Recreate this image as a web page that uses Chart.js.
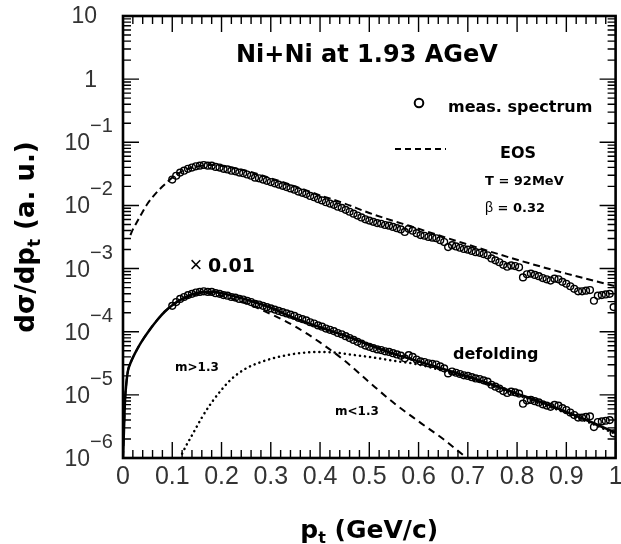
<!DOCTYPE html>
<html>
<head>
<meta charset="utf-8">
<script src="https://cdn.jsdelivr.net/npm/chart.js@4.4.1/dist/chart.umd.min.js"></script>
<style>
  html, body { margin: 0; padding: 0; background: #fff; }
  canvas { display: block; }
</style>
</head>
<body>
<canvas id="chart" width="621" height="544"></canvas>
<script>
// measured pt spectrum (upper set), values read as log10 of dsigma/dpt
const measPt = [
  0.100, 0.108, 0.116, 0.124, 0.132, 0.140, 0.148, 0.156, 0.164, 0.172,
  0.180, 0.188, 0.196, 0.204, 0.212, 0.220, 0.228, 0.236, 0.244, 0.252,
  0.260, 0.268, 0.276, 0.284, 0.292, 0.300, 0.308, 0.316, 0.324, 0.332,
  0.340, 0.348, 0.356, 0.364, 0.372, 0.380, 0.388, 0.396, 0.404, 0.412,
  0.420, 0.428, 0.436, 0.444, 0.452, 0.460, 0.468, 0.476, 0.484, 0.492,
  0.500, 0.508, 0.516, 0.524, 0.532, 0.540, 0.548, 0.556, 0.564, 0.572,
  0.580, 0.588, 0.596, 0.604, 0.612, 0.620, 0.628, 0.636, 0.644, 0.652,
  0.660, 0.668, 0.676, 0.684, 0.692, 0.700, 0.708, 0.716, 0.724, 0.732,
  0.740, 0.748, 0.756, 0.764, 0.772, 0.780, 0.788, 0.796, 0.804, 0.812,
  0.820, 0.828, 0.836, 0.844, 0.852, 0.860, 0.868, 0.876, 0.884, 0.892,
  0.900, 0.908, 0.916, 0.924, 0.932, 0.940, 0.948, 0.956, 0.964, 0.972,
  0.980, 0.988, 0.996
];
const measLog = [
  -1.59, -1.53, -1.48, -1.45, -1.42, -1.40, -1.38, -1.37, -1.36, -1.37,
  -1.37, -1.39, -1.40, -1.42, -1.43, -1.45, -1.46, -1.48, -1.49, -1.51,
  -1.53, -1.56, -1.57, -1.59, -1.61, -1.63, -1.65, -1.67, -1.69, -1.71,
  -1.73, -1.75, -1.78, -1.80, -1.82, -1.85, -1.87, -1.90, -1.92, -1.95,
  -1.97, -1.99, -2.02, -2.04, -2.07, -2.10, -2.13, -2.16, -2.19, -2.22,
  -2.24, -2.26, -2.28, -2.29, -2.31, -2.32, -2.34, -2.36, -2.38, -2.42,
  -2.37, -2.40, -2.44, -2.47, -2.48, -2.50, -2.51, -2.52, -2.55, -2.58,
  -2.66, -2.63, -2.65, -2.67, -2.69, -2.70, -2.72, -2.74, -2.75, -2.77,
  -2.79, -2.84, -2.87, -2.90, -2.94, -2.97, -2.95, -2.96, -2.98, -3.14,
  -3.09, -3.08, -3.10, -3.12, -3.15, -3.17, -3.19, -3.16, -3.17, -3.21,
  -3.24, -3.28, -3.32, -3.36, -3.36, -3.35, -3.34, -3.51, -3.43, -3.42,
  -3.41, -3.40, -3.61
];
// lower copy of the same spectrum
const lowerScale = 0.01;

// EOS fit (T = 92 MeV, beta = 0.32)
const eosPt  = [0.015, 0.02, 0.03, 0.04, 0.05, 0.06, 0.07, 0.08, 0.09, 0.10, 0.12, 0.14, 0.16,
                0.18, 0.20, 0.25, 0.30, 0.35, 0.40, 0.45, 0.50, 0.60, 0.70, 0.80, 0.90, 1.00];
const eosLog = [-2.47, -2.38, -2.24, -2.10, -1.97, -1.87, -1.78, -1.70, -1.63, -1.56, -1.46, -1.40, -1.37,
                -1.36, -1.37, -1.45, -1.57, -1.70, -1.84, -1.97, -2.12, -2.37, -2.62, -2.86, -3.08, -3.28];

// defolding (sum of the two components)
const foldPt  = [0.0, 0.002, 0.004, 0.007, 0.01, 0.015, 0.02, 0.03, 0.04, 0.055, 0.07, 0.085, 0.10, 0.12,
                 0.14, 0.16, 0.18, 0.20, 0.25, 0.30, 0.35, 0.40, 0.45, 0.50, 0.55, 0.60, 0.65, 0.70,
                 0.75, 0.80, 0.85, 0.90, 0.95, 1.00];
const foldLog = [-6.0, -5.55, -5.10, -4.80, -4.62, -4.50, -4.41, -4.26, -4.13, -3.96, -3.81, -3.68, -3.58, -3.48,
                 -3.41, -3.37, -3.37, -3.39, -3.49, -3.62, -3.79, -3.93, -4.06, -4.21, -4.35, -4.47, -4.59, -4.71,
                 -4.84, -4.98, -5.12, -5.27, -5.43, -5.60];

// m < 1.3 component
const lowMassPt  = [0.0, 0.002, 0.004, 0.007, 0.01, 0.015, 0.02, 0.03, 0.04, 0.055, 0.07, 0.085, 0.10, 0.12,
                    0.14, 0.16, 0.18, 0.20, 0.25, 0.30, 0.35, 0.40, 0.45, 0.50, 0.55, 0.60, 0.65, 0.69];
const lowMassLog = [-6.0, -5.55, -5.10, -4.80, -4.62, -4.50, -4.41, -4.26, -4.13, -3.96, -3.81, -3.68, -3.58, -3.49,
                    -3.43, -3.39, -3.40, -3.43, -3.55, -3.72, -3.92, -4.17, -4.46, -4.80, -5.13, -5.42, -5.70, -5.95];

// m > 1.3 component
const highMassPt  = [0.12, 0.13, 0.14, 0.15, 0.16, 0.18, 0.20, 0.22, 0.25, 0.28, 0.31, 0.34, 0.37, 0.40,
                     0.43, 0.46, 0.50, 0.55, 0.60, 0.65, 0.70, 0.75, 0.80, 0.85, 0.90, 0.95, 1.00];
const highMassLog = [-5.93, -5.78, -5.64, -5.50, -5.36, -5.12, -4.92, -4.75, -4.58, -4.48, -4.41, -4.36, -4.33, -4.32,
                     -4.33, -4.36, -4.40, -4.46, -4.52, -4.62, -4.73, -4.86, -5.00, -5.14, -5.29, -5.45, -5.62];

const xTicks = [0, 0.1, 0.2, 0.3, 0.4, 0.5, 0.6, 0.7, 0.8, 0.9, 1];
const xTickLabels = ["0", "0.1", "0.2", "0.3", "0.4", "0.5", "0.6", "0.7", "0.8", "0.9", "1"];
const yDecades = [-6, -5, -4, -3, -2, -1, 0, 1];

const BOLD = "'DejaVu Sans', sans-serif";
const THIN = "'Liberation Sans', Arial, sans-serif";

function toPoints(xs, logs, scale) {
  return xs.map((x, i) => ({ x, y: Math.pow(10, logs[i]) * (scale || 1) }));
}

function text(ctx, str, x, y, font, align) {
  ctx.font = font;
  ctx.textAlign = align || "left";
  ctx.fillText(str, x, y);
}

const framePlugin = {
  id: "frame",
  afterDatasetsDraw(chart) {
    const { ctx, chartArea: a, scales } = chart;
    const xs = scales.x;
    const ys = scales.y;
    ctx.save();
    ctx.strokeStyle = "#000";
    ctx.fillStyle = "#000";
    ctx.textBaseline = "alphabetic";

    // ticks on all four sides, pointing inward
    ctx.lineWidth = 1.4;
    ctx.beginPath();
    for (let i = 0; i <= 50; i++) {
      const px = xs.getPixelForValue(i * 0.02);
      const len = i % 5 === 0 ? 16 : 8;
      ctx.moveTo(px, a.bottom); ctx.lineTo(px, a.bottom - len);
      ctx.moveTo(px, a.top); ctx.lineTo(px, a.top + len);
    }
    for (let d = -6; d <= 1; d++) {
      for (let m = 1; m <= 9; m++) {
        if (d === 1 && m > 1) break;
        const py = ys.getPixelForValue(m * Math.pow(10, d));
        const len = m === 1 ? 16 : 8;
        ctx.moveTo(a.left, py); ctx.lineTo(a.left + len, py);
        ctx.moveTo(a.right, py); ctx.lineTo(a.right - len, py);
      }
    }
    ctx.stroke();

    ctx.lineWidth = 2.6;
    ctx.strokeRect(a.left, a.top, a.right - a.left, a.bottom - a.top);

    // x tick labels
    ctx.fillStyle = "#333";
    xTicks.forEach((v, i) => {
      text(ctx, xTickLabels[i], xs.getPixelForValue(v), a.bottom + 26, "25px " + THIN, "center");
    });

    // y tick labels with exponents
    yDecades.forEach((d) => {
      const py = ys.getPixelForValue(Math.pow(10, d));
      if (d === 1) {
        text(ctx, "10", a.left - 26, py + 7, "23px " + THIN, "right");
      } else if (d === 0) {
        text(ctx, "1", a.left - 26, py + 8, "23px " + THIN, "right");
      } else {
        text(ctx, "10", a.left - 33, py + 8, "23px " + THIN, "right");
        text(ctx, "\u2212" + (-d), a.left - 33, py - 10, "20px " + THIN, "left");
      }
    });

    ctx.fillStyle = "#000";
    // axis titles
    const mid = (a.left + a.right) / 2;
    ctx.font = "bold 25px " + BOLD;
    const w1 = ctx.measureText("p").width;
    ctx.font = "bold 16px " + BOLD;
    const w2 = ctx.measureText("t").width;
    ctx.font = "bold 25px " + BOLD;
    const w3 = ctx.measureText(" (GeV/c)").width;
    let sx = mid - (w1 + w2 + w3) / 2;
    text(ctx, "p", sx, 538, "bold 25px " + BOLD);
    text(ctx, "t", sx + w1, 543, "bold 16px " + BOLD);
    text(ctx, " (GeV/c)", sx + w1 + w2, 538, "bold 25px " + BOLD);

    ctx.save();
    ctx.translate(34, (a.top + a.bottom) / 2);
    ctx.rotate(-Math.PI / 2);
    ctx.font = "bold 26px " + BOLD;
    const t1 = ctx.measureText("d\u03c3/dp").width;
    ctx.font = "bold 17px " + BOLD;
    const t2 = ctx.measureText("t").width;
    ctx.font = "bold 26px " + BOLD;
    const t3 = ctx.measureText(" (a. u.)").width;
    sx = -(t1 + t2 + t3) / 2;
    text(ctx, "d\u03c3/dp", sx, 0, "bold 26px " + BOLD);
    text(ctx, "t", sx + t1, 6, "bold 17px " + BOLD);
    text(ctx, " (a. u.)", sx + t1 + t2, 0, "bold 26px " + BOLD);
    ctx.restore();

    // title and legend
    text(ctx, "Ni+Ni at 1.93 AGeV", 236, 62, "bold 24px " + BOLD);
    ctx.lineWidth = 2;
    ctx.beginPath();
    ctx.arc(419, 103, 4.3, 0, Math.PI * 2);
    ctx.stroke();
    text(ctx, "meas. spectrum", 448, 112, "bold 16px " + BOLD);
    ctx.setLineDash([6, 4]);
    ctx.beginPath();
    ctx.moveTo(395, 149); ctx.lineTo(446, 149);
    ctx.stroke();
    ctx.setLineDash([]);
    text(ctx, "EOS", 500, 158, "bold 16px " + BOLD);
    text(ctx, "T = 92MeV", 485, 185, "bold 13px " + BOLD);
    text(ctx, "\u03b2", 485, 212, "14px " + THIN);
    text(ctx, " = 0.32", 493, 212, "bold 13px " + BOLD);

    // annotations on the lower set
    text(ctx, "\u00d7", 196, 272, "22px " + THIN, "center");
    text(ctx, "0.01", 208, 272, "bold 19px " + BOLD);
    text(ctx, "m>1.3", 175, 371, "bold 12px " + BOLD);
    text(ctx, "m<1.3", 335, 415, "bold 12px " + BOLD);
    text(ctx, "defolding", 453, 359, "bold 16px " + BOLD);
    ctx.restore();
  }
};

const circleStyle = {
  showLine: false,
  pointStyle: "circle",
  pointRadius: 3.4,
  pointBorderWidth: 1.4,
  pointBorderColor: "#000",
  pointBackgroundColor: "rgba(0,0,0,0)"
};

const lineStyle = {
  showLine: true,
  pointRadius: 0,
  borderColor: "#000",
  cubicInterpolationMode: "monotone"
};

new Chart(document.getElementById("chart"), {
  type: "scatter",
  data: {
    datasets: [
      Object.assign({ label: "meas. spectrum", data: toPoints(measPt, measLog) }, circleStyle),
      Object.assign({ label: "meas. x 0.01", data: toPoints(measPt, measLog, lowerScale) }, circleStyle),
      Object.assign({ label: "EOS", data: toPoints(eosPt, eosLog), borderWidth: 2, borderDash: [7, 4] }, lineStyle),
      Object.assign({ label: "defolding", data: toPoints(foldPt, foldLog), borderWidth: 2.5 }, lineStyle),
      Object.assign({ label: "m<1.3", data: toPoints(lowMassPt, lowMassLog), borderWidth: 2, borderDash: [7, 5] }, lineStyle),
      Object.assign({ label: "m>1.3", data: toPoints(highMassPt, highMassLog), borderWidth: 2.5,
                      borderDash: [0.1, 5], borderCapStyle: "round" }, lineStyle)
    ]
  },
  options: {
    responsive: false,
    animation: false,
    events: [],
    layout: { padding: { left: 123, top: 16, right: 4, bottom: 86 } },
    scales: {
      x: { type: "linear", min: 0, max: 1, display: false },
      y: { type: "logarithmic", min: 1e-6, max: 10, display: false }
    },
    plugins: {
      legend: { display: false },
      tooltip: { enabled: false }
    }
  },
  plugins: [framePlugin]
});
</script>
</body>
</html>
